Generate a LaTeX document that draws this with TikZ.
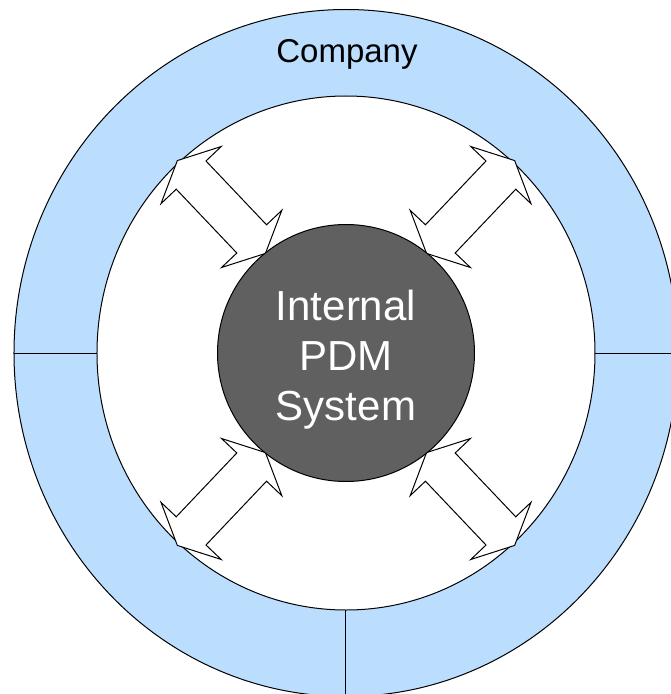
\documentclass[tikz,border=0pt]{standalone}
\usepackage{fontspec}
\setmainfont{Liberation Sans}
\definecolor{ringblue}{RGB}{187,222,255}
\definecolor{pdmgray}{RGB}{96,96,96}
\begin{document}
\begin{tikzpicture}[x=1pt, y=1pt, line join=miter, line width=1pt,
    ring/.style={draw=black, fill=ringblue},
    blockarrow/.style={draw=black, fill=white, line width=1pt}]
    \useasboundingbox (-346,-341) rectangle (325,353);
    \clip (-346,-341) rectangle (325,353);
    % company ring
    \draw[ring] (0,0) ellipse [x radius=332, y radius=343.5];
    \draw[fill=white] (0,0) ellipse [x radius=249, y radius=257];
    \draw (-332,0)--(-249,0) (249,0)--(340,0) (0,-257)--(0,-350);
    \node[font=\fontsize{33}{40}\selectfont, anchor=base] (company) at (1,290) {Company};
    % exchange arrows
    \foreach \sx/\sy in {1/1,-1/1,-1/-1,1/-1}
    	\draw[blockarrow, xscale=\sx, yscale=\sy, shift={(124.6,146)}, rotate=46.5]
    	(-64,0)--(-44,41.5)--(-44,20.5)--(44,20.5)--(44,41.5)--(64,0)
    	--(44,-41.5)--(44,-20.5)--(-44,-20.5)--(-44,-41.5)--cycle;
    % core system
    \node[circle, draw=black, fill=pdmgray, minimum size=257, inner sep=0pt] (pdm) at (0,0) {};
    \node[text=white, align=center, font=\fontsize{42}{50}\selectfont] (pdmtext)
    	at ([yshift=-7]pdm.center) {Internal\\PDM\\System};
\end{tikzpicture}
\end{document}
